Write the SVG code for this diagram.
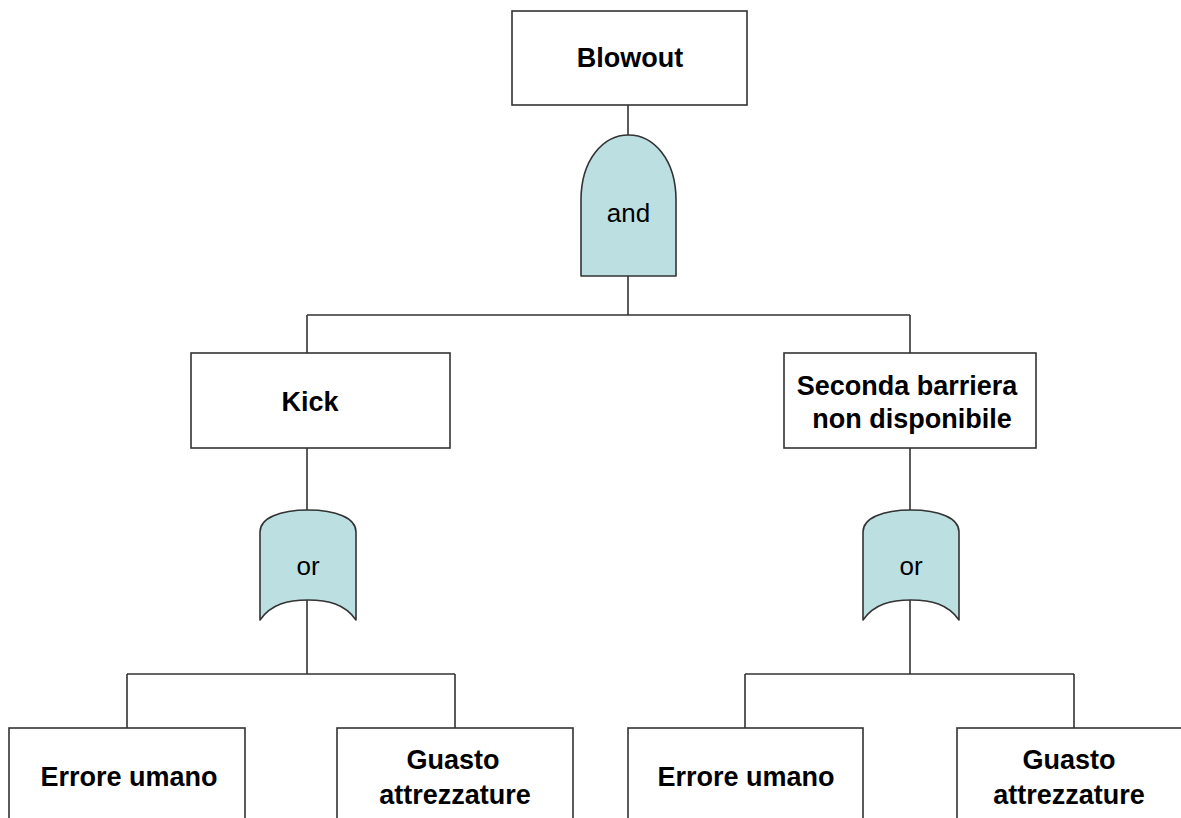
<svg xmlns="http://www.w3.org/2000/svg" width="1181" height="818" viewBox="0 0 1181 818">
  <style>
    .box { fill: #ffffff; stroke: #333333; stroke-width: 1.6; }
    .gate { fill: #bcdfe2; stroke: #333333; stroke-width: 1.6; stroke-linejoin: round; }
    .wire { fill: none; stroke: #333333; stroke-width: 1.6; }
    .lbl { font-family: "Liberation Sans", Arial, sans-serif; font-size: 27px; font-weight: bold; fill: #000000; text-anchor: middle; }
    .glbl { font-family: "Liberation Sans", Arial, sans-serif; font-size: 26px; fill: #000000; text-anchor: middle; }
  </style>
  <defs>
    <path id="or-shape" d="M-47,22 C-47,8 -27,0 1,0 C29,0 49,8 49,22 L49,110 C38,94 21,90 1,90 C-19,90 -36,94 -47,110 Z"/>
  </defs>
  <rect width="1181" height="818" fill="#ffffff"/>

  <!-- connectors -->
  <g id="connectors">
    <path class="wire" d="M628,105 V135"/>
    <path class="wire" d="M628,276 V315 M307,315 H910 M307,315 V353 M910,315 V353"/>
    <path class="wire" d="M307,448 V510"/>
    <path class="wire" d="M910,448 V510"/>
    <path class="wire" d="M307,600 V674 M127,674 H455 M127,674 V728 M455,674 V728"/>
    <path class="wire" d="M910,600 V674 M745,674 H1074 M745,674 V728 M1074,674 V728"/>
  </g>

  <!-- top event -->
  <g id="blowout">
    <rect class="box" x="512" y="11" width="235" height="94"/>
    <text class="lbl" x="630" y="67">Blowout</text>
  </g>

  <!-- AND gate -->
  <g id="gate-and">
    <path class="gate" d="M581,276 L581,200 C581,160 603,135 628.5,135 C654,135 676,160 676,200 L676,276 Z"/>
    <text class="glbl" x="628.5" y="222">and</text>
  </g>

  <!-- intermediate events -->
  <g id="kick">
    <rect class="box" x="191" y="353" width="259" height="95"/>
    <text class="lbl" x="310" y="411">Kick</text>
  </g>
  <g id="seconda-barriera">
    <rect class="box" x="784" y="353" width="252" height="95"/>
    <text class="lbl" x="907" y="395">Seconda barriera</text>
    <text class="lbl" x="912" y="428">non disponibile</text>
  </g>

  <!-- OR gates -->
  <g id="gate-or-left">
    <use href="#or-shape" class="gate" x="307" y="510"/>
    <text class="glbl" x="308" y="575">or</text>
  </g>
  <g id="gate-or-right">
    <use href="#or-shape" class="gate" x="910" y="510"/>
    <text class="glbl" x="911" y="575">or</text>
  </g>

  <!-- basic events -->
  <g id="errore-umano-left">
    <rect class="box" x="9" y="728" width="236" height="110"/>
    <text class="lbl" x="129" y="786">Errore umano</text>
  </g>
  <g id="guasto-left">
    <rect class="box" x="337" y="728" width="236" height="110"/>
    <text class="lbl" x="453" y="769">Guasto</text>
    <text class="lbl" x="455" y="804">attrezzature</text>
  </g>
  <g id="errore-umano-right">
    <rect class="box" x="628" y="728" width="235" height="110"/>
    <text class="lbl" x="746" y="786">Errore umano</text>
  </g>
  <g id="guasto-right">
    <rect class="box" x="957" y="728" width="240" height="110"/>
    <text class="lbl" x="1069" y="769">Guasto</text>
    <text class="lbl" x="1069" y="804">attrezzature</text>
  </g>
</svg>
